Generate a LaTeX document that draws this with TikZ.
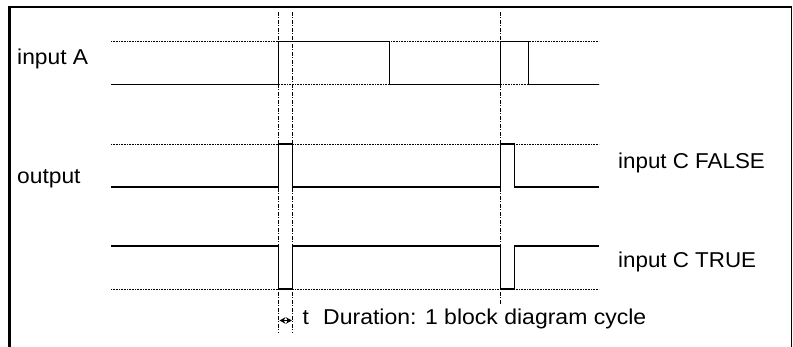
\documentclass[tikz,border=0pt]{standalone}
\usepackage{fontspec}
\setmainfont{Liberation Sans}
\usetikzlibrary{arrows.meta}
\begin{document}
\begin{tikzpicture}[x=1pt,y=-1pt,
  sig/.style={line width=1.2pt},
  lvl/.style={line width=0.8pt,dash pattern=on 0.9pt off 0.7pt},
  cyc/.style={line width=0.8pt,dash pattern=on 4pt off 1.5pt on 1pt off 1.5pt},
  lbl/.style={anchor=base west,inner sep=0pt,font=\fontsize{21.5}{25}\selectfont}]
\useasboundingbox (0,0) rectangle (793,347);
% frame
\draw[line width=2pt] (8,7) -- (791.5,7);
\draw[line width=1pt] (791,6) -- (791,347);
\draw[line width=3pt] (9.5,6) -- (9.5,347);
% reference level lines
\draw[lvl] (111,41.7) -- (599,41.7);
\draw[lvl] (111,84.7) -- (599,84.7);
\draw[lvl] (111,144) -- (599,144);
\draw[lvl] (111,289) -- (599,289);
% cycle markers
\coordinate (c1t) at (278.7,12); \coordinate (c1b) at (278.7,333);
\coordinate (c2t) at (292.7,12); \coordinate (c2b) at (292.7,333);
\coordinate (c3t) at (500.7,12); \coordinate (c3b) at (500.7,305);
\draw[cyc] (c1t) -- (c1b);
\draw[cyc] (c2t) -- (c2b);
\draw[cyc] (c3t) -- (c3b);
% input A
\draw[sig] (111,84.7) -- (278.7,84.7) -- (278.7,41.7) -- (389.3,41.7) -- (389.3,84.7)
  -- (500.7,84.7) -- (500.7,41.7) -- (528.7,41.7) -- (528.7,84.7) -- (599,84.7);
% output (C FALSE)
\draw[sig] (111,187) -- (278.7,187) -- (278.7,144) -- (292.7,144) -- (292.7,187)
  -- (500.7,187) -- (500.7,144) -- (514.7,144) -- (514.7,187) -- (599,187);
% output (C TRUE)
\draw[sig] (111,246) -- (278.7,246) -- (278.7,289) -- (292.7,289) -- (292.7,246)
  -- (500.7,246) -- (500.7,289) -- (514.7,289) -- (514.7,246) -- (599,246);
% duration arrow
\coordinate (d1) at (279.5,320.5); \coordinate (d2) at (291.9,320.5);
\draw[line width=1pt,{Stealth[length=6pt,width=6.5pt]}-{Stealth[length=6pt,width=6.5pt]}] (d1) -- (d2);
% labels
\node[lbl] (la) at (17,64.3) {\scalebox{1.06}[1]{input A}};
\node[lbl] (lo) at (17,183.3) {\scalebox{1.06}[1]{output}};
\node[lbl] (lf) at (618,168.3) {\scalebox{1.04}[1]{input C FALSE}};
\node[lbl] (lt) at (618,267.5) {\scalebox{1.04}[1]{input C TRUE}};
\node[lbl] (lt0) at (302.5,325) {\scalebox{1.06}[1]{t}};
\node[lbl] (ld) at (323,325) {\scalebox{1.07}[1]{Duration: 1 block diagram cycle}};
\end{tikzpicture}
\end{document}
